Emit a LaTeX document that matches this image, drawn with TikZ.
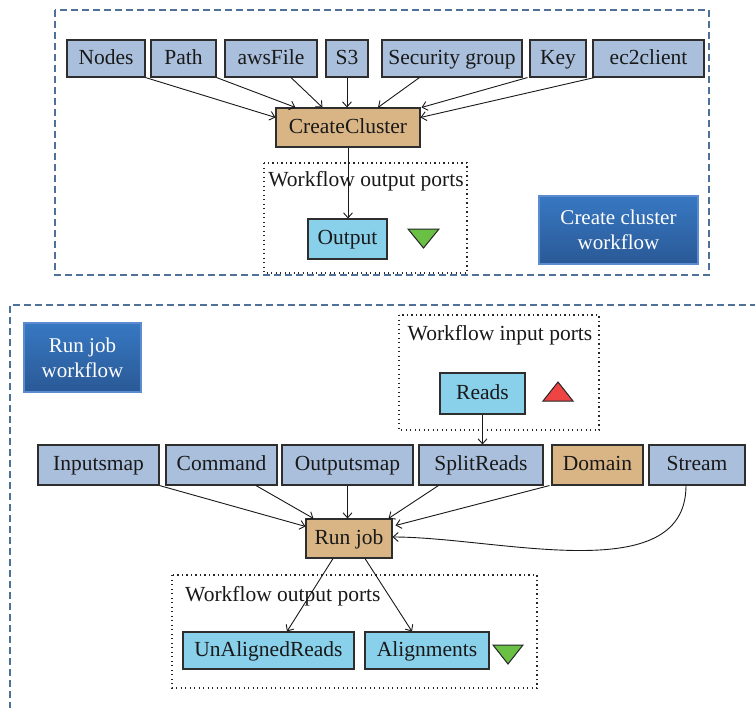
\documentclass[tikz,border=0pt]{standalone}
\usepackage{fontspec}
\setmainfont{Liberation Serif}
\usetikzlibrary{arrows.meta,calc}
\definecolor{bluegray}{HTML}{A9BFDB}
\definecolor{tanbox}{HTML}{D9B586}
\definecolor{portcyan}{HTML}{89D0EA}
\definecolor{greentri}{HTML}{6ABF45}
\definecolor{redtri}{HTML}{EE4444}
\definecolor{dashblue}{HTML}{4F7098}
\definecolor{wftop}{HTML}{3778C2}
\definecolor{wfbot}{HTML}{2A5996}
\definecolor{wfedge}{HTML}{5B8CCF}
\definecolor{edgegray}{HTML}{2E2E2E}
\tikzset{
  base/.style={draw=edgegray,line width=1.1pt,inner sep=0pt,font=\fontsize{21.5}{25}\selectfont,
     text=black!90,text height=15.5pt,text depth=4pt},
  inbox/.style={base,fill=bluegray},
  procbox/.style={base,fill=tanbox},
  portbox/.style={base,fill=portcyan},
  wfbox/.style={draw=wfedge,line width=1.2pt,top color=wftop,bottom color=wfbot,text=white,
     align=center,inner sep=0pt,font=\fontsize{21}{25}\selectfont},
  conn/.style={draw=black!90,line width=0.9pt,-{Straight Barb[length=5pt,width=9pt,line width=0.9pt]}},
  groupdash/.style={draw=dashblue,line width=1.2pt,dash pattern=on 7pt off 4pt},
  groupdot/.style={draw=black!85,line width=1.3pt,dash pattern=on 1.3pt off 3.2pt},
  grouplabel/.style={inner sep=0pt,font=\fontsize{21.5}{25}\selectfont,text=black!90},
  tri/.style={draw=black!85,line width=1pt,line join=miter}
}
\begin{document}
\begin{tikzpicture}[x=1pt,y=-1pt]
\clip (0,0) rectangle (755,707);
\fill[white] (0,0) rectangle (755,707);

% ---------- top group ----------
\draw[groupdash] (55,10) rectangle (709,275);
\draw[groupdot] (264,163) rectangle (467,273);
\node[grouplabel] (outlbl1) at (366,181) {Workflow output ports};

\node[inbox,minimum width=78pt,minimum height=37pt] (nodes) at (106,58.5) {Nodes};
\node[inbox,minimum width=65pt,minimum height=37pt] (path) at (183.5,58.5) {Path};
\node[inbox,minimum width=92pt,minimum height=37pt] (aws) at (271,58.5) {awsFile};
\node[inbox,minimum width=42pt,minimum height=37pt] (s3) at (347,58.5) {S3};
\node[inbox,minimum width=140pt,minimum height=37pt] (sg) at (452,58.5) {Security group};
\node[inbox,minimum width=56pt,minimum height=37pt] (key) at (558,58.5) {Key};
\node[inbox,minimum width=111pt,minimum height=37pt] (ec2) at (648.5,58.5) {ec2client};

\node[procbox,minimum width=144pt,minimum height=39pt] (cc) at (348,127.5) {CreateCluster};
\node[portbox,minimum width=79pt,minimum height=40pt] (out) at (347.5,239) {Output};
\draw[tri,fill=greentri] (408,229) -- (439,229) -- (423.5,248) -- cycle;

\node[wfbox,minimum width=159pt,minimum height=68pt] (wf1) at (618.5,230) {Create cluster\\workflow};

\draw[conn] (nodes.south east) -- ($(cc.north west)+(0,10)$);
\draw[conn] (path.south east) -- ($(cc.north west)+(20,0)$);
\draw[conn] ($(aws.south)+(20,0)$) -- ($(cc.north west)+(47,0)$);
\draw[conn] (s3.south) -- (s3.south |- cc.north);
\draw[conn] ($(sg.south west)+(38,0)$) -- ($(cc.north)+(30,0)$);
\draw[conn] ($(key.south west)+(-2,0)$) -- ($(cc.north east)+(1,0)$);
\draw[conn] ($(ec2.south west)+(2,0)$) -- ($(cc.north east)+(0,10)$);
\draw[conn] (cc.south) -- (cc.south |- out.north);

% ---------- bottom group ----------
\draw[groupdash] (10,720) -- (10,305) -- (770,305);
\node[wfbox,minimum width=117pt,minimum height=69pt] (wf2) at (82.5,357.5) {Run job\\workflow};

\draw[groupdot] (399,315) rectangle (599,430);
\node[grouplabel] (inlbl) at (500,335) {Workflow input ports};
\node[portbox,minimum width=85pt,minimum height=41pt] (reads) at (482.5,393.5) {Reads};
\draw[tri,fill=redtri] (543,401) -- (573,401) -- (558,382) -- cycle;

\node[inbox,minimum width=121pt,minimum height=40pt] (inmap) at (98.5,465) {Inputsmap};
\node[inbox,minimum width=111pt,minimum height=40pt] (cmd) at (221.5,465) {Command};
\node[inbox,minimum width=131pt,minimum height=40pt] (outmap) at (347.5,465) {Outputsmap};
\node[inbox,minimum width=124pt,minimum height=40pt] (split) at (481,465) {SplitReads};
\node[procbox,minimum width=91pt,minimum height=40pt] (domain) at (597.5,465) {Domain};
\node[inbox,minimum width=96pt,minimum height=40pt] (stream) at (697,465) {Stream};

\node[procbox,minimum width=86pt,minimum height=39pt] (rj) at (349,538.5) {Run job};

\draw[conn] (reads.south) -- (reads.south |- split.north);
\draw[conn] (inmap.south east) -- ($(rj.north west)+(0,8)$);
\draw[conn] ($(cmd.south)+(34.5,0)$) -- ($(rj.north west)+(8,0)$);
\draw[conn] (outmap.south) -- (outmap.south |- rj.north);
\draw[conn] ($(split.south west)+(20,0)$) -- ($(rj.north east)+(-4,0)$);
\draw[conn] ($(domain.south west)+(-2,0)$) -- ($(rj.north east)+(3,7)$);
\draw[conn] ($(stream.south)+(-11,0)$) to[out=-90,in=0,looseness=0.9] ($(rj.east)+(0,-1.5)$);

\draw[groupdot] (172,575) rectangle (537,688);
\node[grouplabel,anchor=west] (outlbl2) at (185,596) {Workflow output ports};
\node[portbox,minimum width=171pt,minimum height=37pt] (unal) at (268.5,650.5) {UnAlignedReads};
\node[portbox,minimum width=124pt,minimum height=37pt] (align) at (427,650.5) {Alignments};
\draw[tri,fill=greentri] (493,645) -- (523,645) -- (508,664) -- cycle;

\draw[conn] ($(rj.south)+(-16,0)$) -- ($(unal.north)+(18.5,0)$);
\draw[conn] ($(rj.south)+(16,0)$) -- ($(align.north)+(-15,0)$);
\end{tikzpicture}
\end{document}
